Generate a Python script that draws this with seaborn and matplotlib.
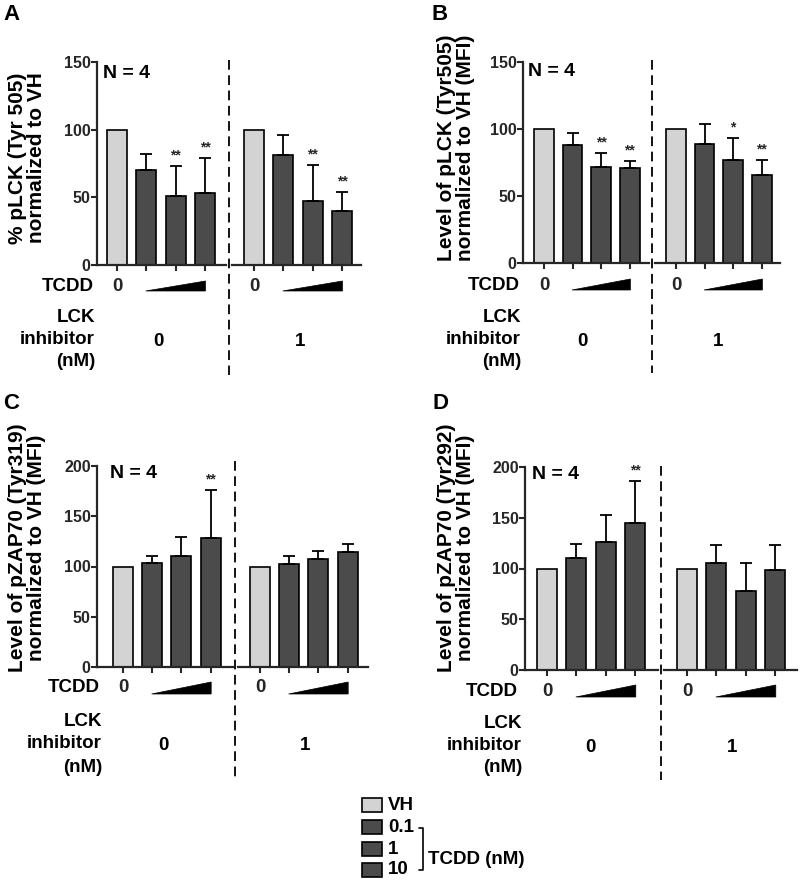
import numpy as np
import pandas as pd
import matplotlib
matplotlib.use("Agg")
import matplotlib.pyplot as plt
import seaborn as sns
from matplotlib.patches import Polygon, Rectangle
from matplotlib.lines import Line2D
from matplotlib.transforms import blended_transform_factory

sns.set_theme(style="ticks")
plt.rcParams['font.family'] = ['Liberation Sans', 'DejaVu Sans']
plt.rcParams['font.weight'] = 'bold'
plt.rcParams['lines.scale_dashes'] = False

# ---------------- data ----------------
conditions = ["VH", "0.1", "1", "10"]
group_labels = ["0", "1"]          # LCK inhibitor (nM)

a_g0_mean = [100, 70, 51, 53]
a_g0_upper = [100, 82, 73, 79]
a_g0_stars = ["", "", "**", "**"]
a_g1_mean = [100, 81, 47, 40]
a_g1_upper = [100, 96, 74, 54]
a_g1_stars = ["", "", "**", "**"]

b_g0_mean = [100, 88, 72, 71]
b_g0_upper = [100, 97, 82, 76]
b_g0_stars = ["", "", "**", "**"]
b_g1_mean = [100, 89, 77, 66]
b_g1_upper = [100, 104, 93, 77]
b_g1_stars = ["", "", "*", "**"]

c_g0_mean = [100, 103, 110, 128]
c_g0_upper = [100, 110, 129, 176]
c_g0_stars = ["", "", "", "**"]
c_g1_mean = [100, 102, 107, 114]
c_g1_upper = [100, 110, 115, 122]
c_g1_stars = ["", "", "", ""]

d_g0_mean = [100, 110, 126, 145]
d_g0_upper = [100, 124, 153, 186]
d_g0_stars = ["", "", "", "**"]
d_g1_mean = [100, 105, 78, 99]
d_g1_upper = [100, 123, 105, 123]
d_g1_stars = ["", "", "", ""]

a_ylabel = "% pLCK (Tyr 505)\nnormalized to VH"
b_ylabel = "Level of pLCK (Tyr505)\nnormalized to VH (MFI)"
c_ylabel = "Level of pZAP70 (Tyr319)\nnormalized to VH (MFI)"
d_ylabel = "Level of pZAP70 (Tyr292)\nnormalized to VH (MFI)"

# ---------------- style ----------------
W, H = 800, 883
LIGHT = "#d3d3d3"
DARK = "#4b4b4b"
palette = {"VH": LIGHT, "0.1": DARK, "1": DARK, "10": DARK}

fig = plt.figure(figsize=(W / 100, H / 100), dpi=100)
fig.patch.set_facecolor("white")


def fx(x):
    return x / W


def fy(y):
    return 1 - y / H


def ftext(x, y, s, **kw):
    kw.setdefault("fontweight", "bold")
    kw.setdefault("color", "black")
    fig.text(fx(x), fy(y), s, **kw)


def draw_group(left, right, first, step, y0, ytop, ymax, yticks, means, uppers, stars, show_y):
    ax = fig.add_axes([fx(left), fy(y0), (right - left) / W, (y0 - ytop) / H])
    df = pd.DataFrame({"cond": conditions, "value": means})
    sns.barplot(data=df, x="cond", y="value", hue="cond", order=conditions,
                hue_order=conditions, palette=palette, width=0.68,
                edgecolor="black", linewidth=1.2, errorbar=None,
                legend=False, ax=ax)
    x = np.arange(len(conditions))
    m = np.array(means, dtype=float)
    u = np.array(uppers, dtype=float)
    ax.errorbar(x[1:], m[1:], yerr=[np.zeros(len(x) - 1), u[1:] - m[1:]],
                fmt="none", ecolor="black", elinewidth=1.3, capsize=4.5,
                capthick=1.3, zorder=3)
    for xi, ui, s in zip(x, u, stars):
        if s:
            ax.annotate(s, (xi, ui), xytext=(0, 2.5), textcoords="offset points",
                        ha="center", va="bottom", fontsize=10, fontweight="bold")
    ax.set_xlim((left - first) / step, (right - first) / step)
    ax.set_ylim(0, ymax)
    ax.set_xlabel("")
    ax.set_ylabel("")
    ax.set_xticks(x)
    ax.set_xticklabels([])
    ax.set_facecolor("none")
    for sp in ["top", "right"]:
        ax.spines[sp].set_visible(False)
    ax.spines["bottom"].set_linewidth(1.6)
    ax.spines["left"].set_linewidth(1.6)
    ax.tick_params(axis="x", length=4, width=1.5, direction="out")
    if show_y:
        ax.set_yticks(yticks)
        ax.set_yticklabels([str(t) for t in yticks], fontsize=11.5, fontweight="bold")
        ax.tick_params(axis="y", length=4, width=1.5, direction="out", pad=0.5)
    else:
        ax.spines["left"].set_visible(False)
        ax.set_yticks([])
    return ax


def draw_panel(cfg, g0, g1):
    ymax = cfg["ymax"]
    ax0 = draw_group(cfg["axis_x"], cfg["brk"][0], cfg["first0"], cfg["step"],
                     cfg["y0"], cfg["ytop"], ymax, cfg["yticks"], *g0, show_y=True)
    ax1 = draw_group(cfg["brk"][1], cfg["right"], cfg["first1"], cfg["step"],
                     cfg["y0"], cfg["ytop"], ymax, cfg["yticks"], *g1, show_y=False)
    axes = [ax0, ax1]
    # panel letter
    ftext(*cfg["letter_xy"], cfg["letter"], fontsize=16, ha="center", va="center")
    # y label
    ftext(*cfg["ylabel_xy"], cfg["ylabel"], fontsize=15, rotation=90,
          ha="center", va="center", multialignment="center", linespacing=1.05)
    # N = 4
    ftext(*cfg["n_xy"], "N = 4", fontsize=14, ha="left", va="center")
    # dashed separator
    fig.add_artist(Line2D([fx(cfg["dash_x"])] * 2, [fy(cfg["dash_y"][0]), fy(cfg["dash_y"][1])],
                          transform=fig.transFigure, color="black", lw=1.3,
                          dashes=(7, 4)))
    # TCDD row
    ty = cfg["tcdd_y"]
    ftext(cfg["tcdd_right"], ty, "TCDD", fontsize=13.5, ha="right", va="center")
    for ax in axes:
        tr = blended_transform_factory(ax.transData, fig.transFigure)
        fig.text(0, fy(ty), "0", transform=tr, fontsize=13.5, fontweight="bold",
                 ha="center", va="center")
        wb = fy(ty + cfg["wedge"][0])
        wt = fy(ty + cfg["wedge"][1])
        poly = Polygon([[0.98, wb], [3.02, wt], [3.02, wb]], closed=True,
                       transform=tr, facecolor="black", edgecolor="black", lw=0.5)
        fig.add_artist(poly)
    # LCK inhibitor block
    lr = cfg["lck_right"]
    for txt, yy in zip(["LCK", "inhibitor", "(nM)"], cfg["lck_y"]):
        ftext(lr, yy, txt, fontsize=13.5, ha="right", va="center")
    for lab, xx in zip(group_labels, cfg["grp_x"]):
        ftext(xx, cfg["grp_y"], lab, fontsize=13.5, ha="center", va="center")


panels = [
    (dict(letter="A", letter_xy=(11, 15), ylabel=a_ylabel, ylabel_xy=(27, 158),
          axis_x=97, brk=(226, 232), right=361, first0=117, first1=254, step=29.3,
          y0=265, ytop=62, ymax=150, yticks=[0, 50, 100, 150], n_xy=(103, 73),
          dash_x=229, dash_y=(60, 375), tcdd_y=287, tcdd_right=94, wedge=(4, -6),
          lck_right=95, lck_y=(317, 340, 362), grp_x=(158, 300), grp_y=342),
     (a_g0_mean, a_g0_upper, a_g0_stars), (a_g1_mean, a_g1_upper, a_g1_stars)),
    (dict(letter="B", letter_xy=(440, 14), ylabel=b_ylabel, ylabel_xy=(456, 148),
          axis_x=523, brk=(649, 655), right=780, first0=544, first1=676, step=28.6,
          y0=263, ytop=62, ymax=150, yticks=[0, 50, 100, 150], n_xy=(528, 72),
          dash_x=652, dash_y=(60, 373), tcdd_y=285, tcdd_right=520, wedge=(5, -6),
          lck_right=521, lck_y=(317, 340, 362), grp_x=(582, 718), grp_y=342),
     (b_g0_mean, b_g0_upper, b_g0_stars), (b_g1_mean, b_g1_upper, b_g1_stars)),
    (dict(letter="C", letter_xy=(11, 404), ylabel=c_ylabel, ylabel_xy=(27, 548),
          axis_x=97, brk=(233, 238), right=368, first0=123, first1=260, step=29.2,
          y0=667, ytop=466, ymax=200, yticks=[0, 50, 100, 150, 200], n_xy=(110, 473),
          dash_x=235, dash_y=(461, 778), tcdd_y=688, tcdd_right=100, wedge=(6, -6),
          lck_right=102, lck_y=(722, 744, 767), grp_x=(163, 305), grp_y=745),
     (c_g0_mean, c_g0_upper, c_g0_stars), (c_g1_mean, c_g1_upper, c_g1_stars)),
    (dict(letter="D", letter_xy=(440, 404), ylabel=d_ylabel, ylabel_xy=(456, 548),
          axis_x=525, brk=(658, 664), right=797, first0=547, first1=687, step=29.4,
          y0=670, ytop=467, ymax=200, yticks=[0, 50, 100, 150, 200], n_xy=(532, 475),
          dash_x=661, dash_y=(466, 780), tcdd_y=691, tcdd_right=518, wedge=(6, -6),
          lck_right=522, lck_y=(723, 746, 768), grp_x=(590, 732), grp_y=748),
     (d_g0_mean, d_g0_upper, d_g0_stars), (d_g1_mean, d_g1_upper, d_g1_stars)),
]

for cfg, g0, g1 in panels:
    draw_panel(cfg, g0, g1)

# ---------------- legend ----------------
leg_rows = [(805, LIGHT), (827, DARK), (849, DARK), (870, DARK)]
for (cy, col), lab in zip(leg_rows, conditions):
    fig.add_artist(Rectangle((fx(362), fy(cy + 7)), 20 / W, 14 / H,
                             transform=fig.transFigure, facecolor=col,
                             edgecolor="black", lw=1.2))
    ftext(388, cy, lab, fontsize=13.5, ha="left", va="center")
# bracket for TCDD doses
bx = 423
fig.add_artist(Line2D([fx(bx - 4), fx(bx), fx(bx), fx(bx - 4)],
                      [fy(828), fy(828), fy(870), fy(870)],
                      transform=fig.transFigure, color="black", lw=1.2))
ftext(428, 860, "TCDD (nM)", fontsize=13.5, ha="left", va="center")

fig.savefig("out.png", dpi=100, facecolor="white")
